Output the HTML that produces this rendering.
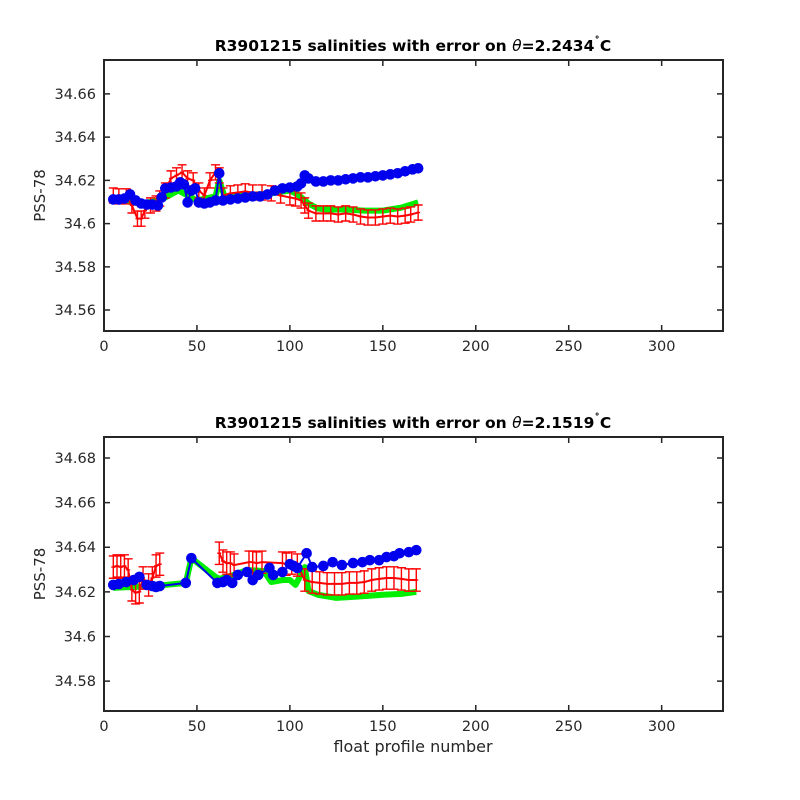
<!DOCTYPE html>
<html><head><meta charset="utf-8"><style>
body{margin:0;background:#fff;}
svg{display:block;font-family:"DejaVu Sans","Liberation Sans",sans-serif;}
</style></head><body>
<svg id="chart" width="800" height="800" viewBox="0 0 800 800"></svg>
<script>
// Panel 1 data
const p1BlueX=[5,8,11,14,17,20,23,26,29,31,33,36,39,41,43,45,47,49,51,54,57,60,62,64,68,72,76,80,84,88,92,96,100,104,106,108,110,114,118,122,126,130,134,138,142,146,150,154,158,162,166,169];
const p1BlueY=[34.6112,34.6112,34.6116,34.6135,34.6107,34.6093,34.6088,34.6088,34.6084,34.6121,34.6163,34.6167,34.6172,34.6191,34.6181,34.6098,34.6153,34.6163,34.6098,34.6093,34.6098,34.6107,34.6233,34.6107,34.6112,34.6116,34.6121,34.6126,34.6126,34.6135,34.6153,34.6163,34.6167,34.6172,34.6186,34.6223,34.6209,34.6195,34.6195,34.6200,34.6200,34.6205,34.6209,34.6214,34.6214,34.6219,34.6223,34.6228,34.6233,34.6242,34.6251,34.6256];
const p1GreenX=[5,20,30,40,50,60,62,65,75,90,100,105,110,115,120,130,140,150,160,169];
const p1GreenY=[34.6112,34.6093,34.6107,34.6153,34.6107,34.6126,34.6200,34.6121,34.6130,34.6140,34.6153,34.6130,34.6093,34.6070,34.6065,34.6065,34.6060,34.6060,34.6074,34.6098];
const p1RedX=[5,8,12,15,18,20,22,25,28,30,33,36,39,42,45,48,51,54,57,60,62,64,68,72,76,80,85,90,95,100,103,106,108,110,114,118,122,126,130,134,138,142,146,150,154,158,162,165,169];
const p1RedY=[34.6130,34.6126,34.6126,34.6084,34.6023,34.6023,34.6060,34.6084,34.6093,34.6116,34.6153,34.6209,34.6223,34.6237,34.6209,34.6200,34.6153,34.6130,34.6200,34.6237,34.6223,34.6130,34.6140,34.6144,34.6149,34.6144,34.6144,34.6140,34.6130,34.6121,34.6116,34.6107,34.6084,34.6060,34.6047,34.6047,34.6047,34.6042,34.6047,34.6042,34.6033,34.6028,34.6028,34.6033,34.6037,34.6033,34.6037,34.6042,34.6051];
const p1Err=0.0035;
const p1YTicks=[34.56,34.58,34.6,34.62,34.64,34.66];
const p1YLabels=["34.56","34.58","34.6","34.62","34.64","34.66"];
// Panel 2 data
const p2BlueX=[5,8,12,16,19,23,26,28,30,44,47,61,64,66,69,72,77,80,83,89,91,96,100,102,104,109,112,118,123,128,134,139,143,148,152,156,159,164,168];
const p2BlueY=[34.6231,34.6235,34.6244,34.6253,34.6267,34.6231,34.6226,34.6222,34.6226,34.6240,34.6351,34.6240,34.6244,34.6253,34.6240,34.6276,34.6289,34.6253,34.6276,34.6307,34.6276,34.6289,34.6324,34.6316,34.6307,34.6373,34.6311,34.6316,34.6333,34.6320,34.6329,34.6333,34.6342,34.6342,34.6356,34.6360,34.6373,34.6378,34.6387];
const p2GreenX=[5,28,44,47,60,62,70,77,86,90,96,100,103,105,108,110,115,125,135,150,160,168];
const p2GreenY=[34.6218,34.6227,34.6240,34.6351,34.6267,34.6258,34.6276,34.6298,34.6293,34.6244,34.6253,34.6253,34.6231,34.6262,34.6311,34.6204,34.6187,34.6173,34.6178,34.6187,34.6191,34.6200];
const p2RedX=[5,7,9,11,13,15,17,19,21,24,26,28,30,62,64,66,68,70,78,80,82,85,96,98,101,104,108,112,116,120,124,128,132,136,140,144,148,152,156,160,164,168];
const p2RedY=[34.6311,34.6316,34.6311,34.6316,34.6298,34.6209,34.6196,34.6200,34.6262,34.6231,34.6262,34.6316,34.6324,34.6373,34.6338,34.6329,34.6329,34.6320,34.6333,34.6333,34.6329,34.6333,34.6329,34.6324,34.6329,34.6320,34.6253,34.6244,34.6240,34.6236,34.6236,34.6236,34.6240,34.6240,34.6244,34.6253,34.6258,34.6262,34.6262,34.6258,34.6253,34.6253];
const p2Err=0.005;
const p2YTicks=[34.58,34.6,34.62,34.64,34.66,34.68];
const p2YLabels=["34.58","34.6","34.62","34.64","34.66","34.68"];
const xTicks=[0,50,100,150,200,250,300];
const xLabels=["0","50","100","150","200","250","300"];
const titles=["2.2434","2.1519"];

const NS="http://www.w3.org/2000/svg";
const svg=document.getElementById('chart');
function mk(tag,attrs,parent){const e=document.createElementNS(NS,tag);for(const k in attrs)e.setAttribute(k,attrs[k]);(parent||svg).appendChild(e);return e;}

function panel(cfg){
  const L=104,R=723,T=cfg.top,B=cfg.bottom;
  const xS=v=>L+(v-0)/(333-0)*(R-L);
  const yS=v=>B-(v-cfg.ymin)/(cfg.ymax-cfg.ymin)*(B-T);
  const g=mk('g',{});
  
  
  const t=mk('text',{x:413,y:T-9,'text-anchor':'middle','font-size':15.5,'font-weight':'bold',fill:'#000'},g);
  
  
  t.innerHTML='R3901215 salinities with error on <tspan font-style="italic" font-weight="normal">θ</tspan>='+cfg.theta+'<tspan dy="-6" font-size="11">˚</tspan><tspan dy="6">C</tspan>';
  const gp=cfg.gx.map((x,i)=>xS(x)+','+yS(cfg.gy[i])).join(' ');
  const gl=mk('polyline',{points:gp,fill:'none',stroke:'#00ee00','stroke-width':6,'stroke-linejoin':'round'},g);
  
  
  // red line split on gaps
  let d='';
  cfg.rx.forEach((x,i)=>{
    const cmd=(i===0||x-cfg.rx[i-1]>12)?'M':'L';
    d+=cmd+xS(x)+','+yS(cfg.ry[i]);
  });
  const rl=mk('path',{d:d,fill:'none',stroke:'#ff0000','stroke-width':2},g);
  
  
  cfg.rx.forEach((x,i)=>{
    const px=xS(x),y1=yS(cfg.ry[i]+cfg.err),y2=yS(cfg.ry[i]-cfg.err),py=yS(cfg.ry[i]);
    const eb=mk('path',{d:`M${px},${y1}V${y2}M${px-4.5},${y1}H${px+4.5}M${px-4.5},${y2}H${px+4.5}M${px-2},${py}H${px+2}`,stroke:'#ff0000','stroke-width':1.4,fill:'none'},g);
    
    
  });
  const bp=cfg.bx.map((x,i)=>xS(x)+','+yS(cfg.by[i])).join(' ');
  const bl=mk('polyline',{points:bp,fill:'none',stroke:'#0000ee','stroke-width':2},g);
  
  
  cfg.bx.forEach((x,i)=>{
    const c=mk('circle',{cx:xS(x),cy:yS(cfg.by[i]),r:5.3,fill:'#0000ee'},g);
    
    
  });
  const box=mk('rect',{x:L,y:T,width:R-L,height:B-T,fill:'none',stroke:'#262626','stroke-width':2},g);
  
  
  cfg.yt.forEach((v,i)=>{
    const y=yS(v);
    mk('path',{d:`M${L},${y}H${L+6}M${R},${y}H${R-6}`,stroke:'#262626','stroke-width':1.5},g);
    const lb=mk('text',{x:L-8,y:y+5,'text-anchor':'end','font-size':14.5,fill:'#262626'},g);
    
    
    lb.textContent=cfg.yl[i];
  });
  xTicks.forEach((v,i)=>{
    const x=xS(v);
    mk('path',{d:`M${x},${B}V${B-6}M${x},${T}V${T+6}`,stroke:'#262626','stroke-width':1.5},g);
    const lb=mk('text',{x:x,y:B+20,'text-anchor':'middle','font-size':14.5,fill:'#262626'},g);
    
    
    lb.textContent=xLabels[i];
  });
  const yl=mk('text',{x:0,y:0,transform:`translate(45,${(T+B)/2}) rotate(-90)`,'text-anchor':'middle','font-size':15,fill:'#262626'},g);
  
  
  yl.textContent='PSS-78';
}
panel({name:'panel-top',top:60,bottom:331,ymin:34.5503,ymax:34.6757,theta:titles[0],bx:p1BlueX,by:p1BlueY,gx:p1GreenX,gy:p1GreenY,rx:p1RedX,ry:p1RedY,err:p1Err,yt:p1YTicks,yl:p1YLabels});
panel({name:'panel-bottom',top:437,bottom:711,ymin:34.5666,ymax:34.6894,theta:titles[1],bx:p2BlueX,by:p2BlueY,gx:p2GreenX,gy:p2GreenY,rx:p2RedX,ry:p2RedY,err:p2Err,yt:p2YTicks,yl:p2YLabels});
const xl=mk('text',{x:413,y:752,'text-anchor':'middle','font-size':16,fill:'#262626'});


xl.textContent='float profile number';
</script>
</body></html>
